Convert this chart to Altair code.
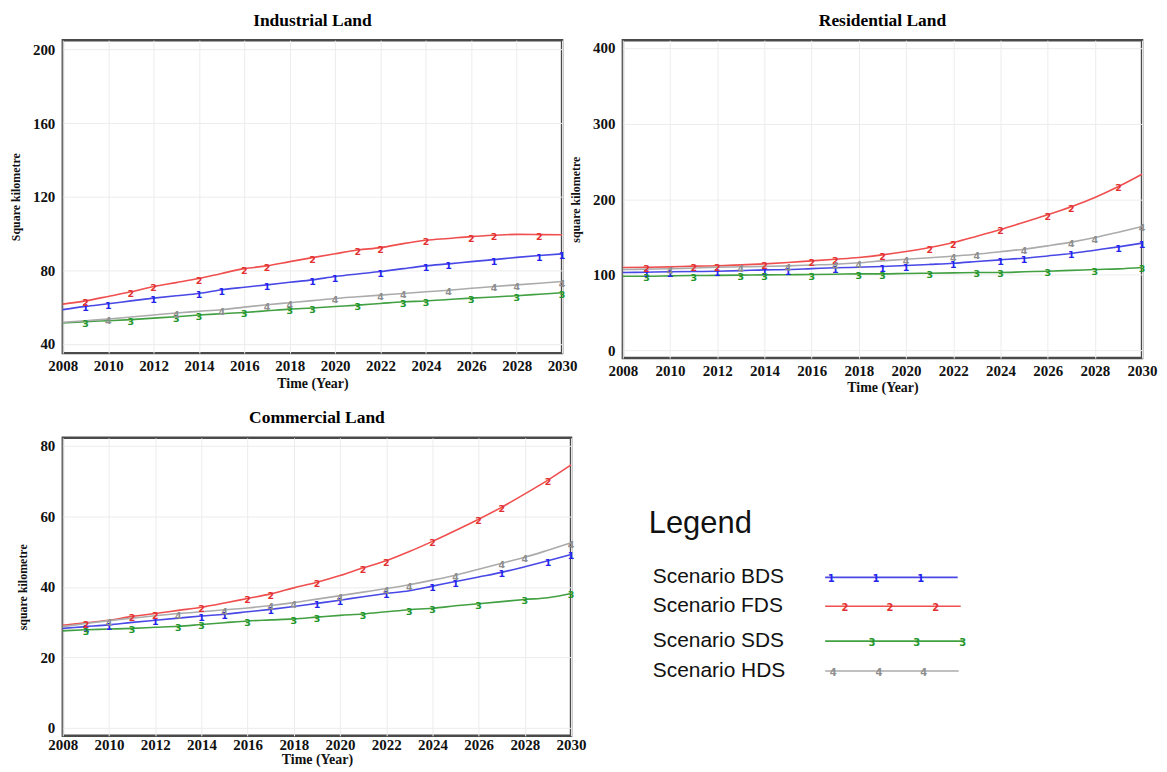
import altair as alt
import pandas as pd

years = list(range(2008, 2031))
scenarios = ["BDS", "FDS", "SDS", "HDS"]
codes = ["1", "2", "3", "4"]
line_colors = ["#4848e6", "#ef4f4f", "#42a042", "#ababab"]
digit_colors = ["#2323ee", "#e23030", "#22962a", "#8e8e8e"]

# Industrial Land
ind_bds = [58.6, 60.4, 61.8, 63.4, 64.9, 66.2, 67.4, 69.4, 70.8, 72.1, 73.5, 74.8, 76.6, 78.0, 79.3, 80.9, 82.4, 83.5, 84.7, 85.8, 87.0, 88.0, 88.9]
ind_fds = [61.6, 63.4, 65.8, 68.3, 71.2, 73.3, 75.5, 78.3, 80.9, 82.4, 84.7, 86.9, 89.0, 91.0, 92.3, 94.5, 96.3, 97.3, 98.3, 99.0, 99.5, 99.4, 99.3]
ind_sds = [51.4, 52.1, 52.6, 53.2, 54.0, 54.8, 55.7, 56.4, 57.1, 58.0, 58.9, 59.5, 60.3, 61.1, 62.0, 62.9, 63.3, 64.1, 64.9, 65.5, 66.2, 67.0, 67.8]
ind_hds = [51.7, 52.6, 53.5, 54.6, 55.7, 56.8, 57.7, 58.6, 60.0, 61.3, 62.4, 63.5, 64.7, 65.6, 66.5, 67.4, 68.3, 69.2, 70.2, 71.2, 72.1, 73.0, 73.9]

# Residential Land
res_bds = [103.0, 103.5, 104.0, 104.4, 104.8, 105.6, 106.6, 107.0, 108.2, 109.3, 110.1, 111.0, 112.3, 113.8, 115.4, 117.6, 119.8, 122.0, 125.0, 128.2, 132.6, 137.0, 141.9]
res_fds = [109.7, 110.0, 110.5, 111.5, 112.0, 113.2, 114.5, 116.3, 118.5, 120.7, 123.0, 126.4, 130.8, 136.1, 142.7, 151.1, 159.9, 169.6, 179.3, 189.9, 202.2, 216.7, 233.0]
res_sds = [98.2, 98.2, 98.6, 99.1, 99.3, 99.6, 100.0, 100.2, 100.4, 100.8, 101.3, 101.3, 101.8, 102.2, 102.6, 103.1, 103.1, 104.0, 104.8, 105.9, 107.0, 107.9, 109.7]
res_hds = [107.0, 107.5, 108.0, 109.0, 110.0, 110.6, 111.2, 111.9, 113.0, 114.1, 115.9, 118.5, 120.7, 122.5, 124.8, 127.3, 130.5, 133.9, 138.3, 143.2, 149.3, 156.4, 163.9]

# Commercial Land
com_bds = [28.2, 28.7, 29.2, 29.9, 30.5, 31.1, 31.7, 32.2, 32.9, 33.6, 34.4, 35.3, 36.2, 37.2, 38.1, 38.9, 40.2, 41.5, 42.8, 44.1, 45.7, 47.4, 49.2]
com_fds = [29.1, 29.8, 30.5, 31.6, 32.4, 33.3, 34.2, 35.4, 36.7, 38.0, 39.7, 41.3, 43.2, 45.4, 47.4, 50.0, 52.9, 56.0, 59.2, 62.6, 66.4, 70.3, 74.6]
com_sds = [27.5, 27.8, 28.0, 28.2, 28.5, 28.8, 29.3, 29.8, 30.3, 30.6, 30.9, 31.4, 31.9, 32.3, 32.9, 33.5, 33.9, 34.6, 35.2, 35.8, 36.4, 36.9, 38.1]
com_hds = [28.7, 29.6, 30.4, 31.1, 31.8, 32.4, 32.9, 33.5, 34.0, 34.7, 35.5, 36.5, 37.5, 38.5, 39.5, 40.6, 41.9, 43.3, 45.0, 46.7, 48.4, 50.4, 52.5]

# years where the numbered markers sit on each curve
marker_bds = [2009, 2010, 2012, 2014, 2015, 2017, 2019, 2020, 2022, 2024, 2025, 2027, 2029, 2030]
marker_fds = [2009, 2011, 2012, 2014, 2016, 2017, 2019, 2021, 2022, 2024, 2026, 2027, 2029]
marker_sds = [2009, 2011, 2013, 2014, 2016, 2018, 2019, 2021, 2023, 2024, 2026, 2028, 2030]
marker_hds = [2010, 2013, 2015, 2017, 2018, 2020, 2022, 2023, 2025, 2027, 2028, 2030]
markers = [marker_bds, marker_fds, marker_sds, marker_hds]

x_ticks = list(range(2008, 2031, 2))

# legend
legend_names = ["Scenario BDS", "Scenario FDS", "Scenario SDS", "Scenario HDS"]
legend_row_y = [140, 169, 204, 234]
legend_line_start = [205, 205, 205, 205]
legend_line_end = [338, 341, 344, 339]
legend_digit_x = [[211, 256, 301], [225, 270, 316], [252, 297, 343], [213, 259, 304]]

SERIF = "Liberation Serif"


def panel_df(series):
    rows = []
    for s, c, vals, mk in zip(scenarios, codes, series, markers):
        for yr, v in zip(years, vals):
            rows.append({"year": yr, "value": v, "scenario": s, "code": c, "marker": yr in mk})
    return pd.DataFrame(rows)


def panel(series, title, ytitle, domain, ticks, w, h, lpad=5, tpad=3):
    df = panel_df(series)
    x = alt.X("year:Q",
              scale=alt.Scale(domain=[2008, 2030], nice=False, zero=False),
              axis=alt.Axis(values=x_ticks, format="d", title="Time (Year)", labelFlush=False,
                            labelOverlap=False, labelPadding=lpad, titlePadding=tpad))
    y = alt.Y("value:Q",
              scale=alt.Scale(domain=domain, nice=False, zero=False),
              axis=alt.Axis(values=ticks, title=ytitle, labelPadding=8, titlePadding=10,
                            titleFontSize=12))
    lines = alt.Chart(df).mark_line(strokeWidth=1.6, interpolate="monotone").encode(
        x=x, y=y,
        color=alt.Color("scenario:N", scale=alt.Scale(domain=scenarios, range=line_colors), legend=None),
    )
    digits = alt.Chart(df).transform_filter("datum.marker").mark_text(
        fontSize=9.5, fontWeight="bold", font="DejaVu Sans", dy=2
    ).encode(
        x="year:Q", y="value:Q", text="code:N",
        color=alt.Color("scenario:N", scale=alt.Scale(domain=scenarios, range=digit_colors), legend=None),
    )
    return alt.layer(lines, digits).resolve_scale(color="independent").properties(
        width=w, height=h,
        title=alt.TitleParams(title, font=SERIF, fontSize=17.5, fontWeight="bold", anchor="middle", offset=11),
    )


ind = panel([ind_bds, ind_fds, ind_sds, ind_hds], "Industrial Land", "Square kilometre",
            [35, 205], [40, 80, 120, 160, 200], 501, 314)
res = panel([res_bds, res_fds, res_sds, res_hds], "Residential Land", "square kilometre",
            [-10, 410], [0, 100, 200, 300, 400], 521, 319)
com = panel([com_bds, com_fds, com_sds, com_hds], "Commercial Land", "square kilometre",
            [-2.3, 82.3], [0, 20, 40, 60, 80], 510, 299, lpad=2, tpad=0)

# legend panel
leg_rows = pd.DataFrame({
    "name": legend_names, "scenario": scenarios, "y": legend_row_y,
    "x0": legend_line_start, "x1": legend_line_end,
})
leg_digits = pd.DataFrame([
    {"scenario": s, "code": c, "x": dx, "y": yy}
    for s, c, xs, yy in zip(scenarios, codes, legend_digit_x, legend_row_y) for dx in xs
])
leg_head = pd.DataFrame({"label": ["Legend"], "x": [28], "y": [87]})

lx = alt.Scale(domain=[2, 352], nice=False, zero=False)
ly = alt.Scale(domain=[0, 299], nice=False, zero=False, reverse=True)

head = alt.Chart(leg_head).mark_text(font="Liberation Sans", fontSize=31, align="left", baseline="middle",
                                     color="#111").encode(
    x=alt.X("x:Q", scale=lx, axis=None), y=alt.Y("y:Q", scale=ly, axis=None), text="label:N")
names = alt.Chart(leg_rows).mark_text(font="Liberation Sans", fontSize=21, align="left", baseline="middle",
                                      color="#111").encode(
    x=alt.X("x:Q", scale=lx, axis=None), y=alt.Y("y:Q", scale=ly, axis=None), text="name:N"
).transform_calculate(x="32")
rules = alt.Chart(leg_rows).mark_rule(strokeWidth=1.6).encode(
    x=alt.X("x0:Q", scale=lx, axis=None), x2="x1:Q", y=alt.Y("y:Q", scale=ly, axis=None),
    color=alt.Color("scenario:N", scale=alt.Scale(domain=scenarios, range=line_colors), legend=None))
ldig = alt.Chart(leg_digits).mark_text(fontSize=10, fontWeight="bold", font="DejaVu Sans", dy=2).encode(
    x=alt.X("x:Q", scale=lx, axis=None), y=alt.Y("y:Q", scale=ly, axis=None), text="code:N",
    color=alt.Color("scenario:N", scale=alt.Scale(domain=scenarios, range=digit_colors), legend=None))

legend = alt.layer(head, names, rules, ldig).resolve_scale(color="independent").properties(
    width=350, height=299, view=alt.ViewBackground(strokeOpacity=0))

chart = alt.concat(ind, res, com, legend, columns=2, spacing={"row": 80, "column": 52},
                   bounds="flush", align="each").properties(
    padding={"left": 0, "top": 1, "right": 0, "bottom": -2}, background="white"
).configure_view(stroke="#4a4a4a", strokeWidth=2.5).configure_axis(
    labelFont=SERIF, labelFontSize=15, labelFontWeight="bold", labelColor="#111",
    titleFont=SERIF, titleFontSize=14, titleFontWeight="bold", titleColor="#111",
    ticks=False, domain=False, grid=True, gridColor="#ececec", gridWidth=1,
)

chart.save("out.html", embed_options={"renderer": "svg", "actions": False})
